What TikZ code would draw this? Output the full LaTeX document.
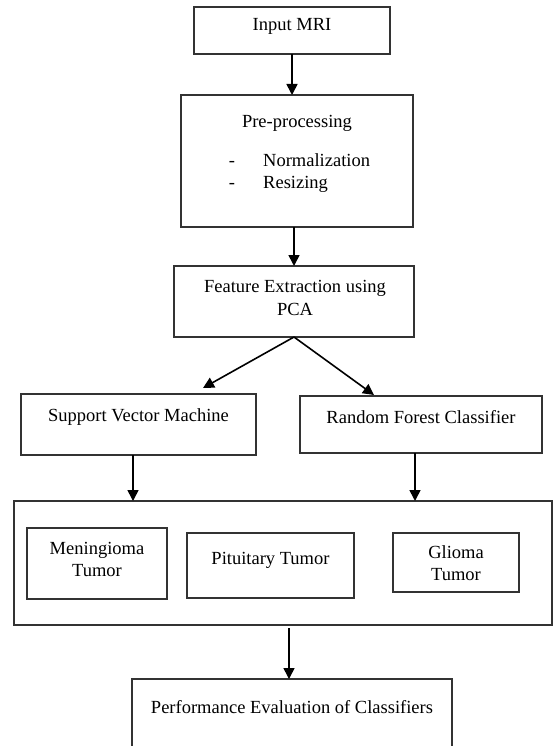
\documentclass[tikz,border=0pt]{standalone}
\usepackage{fontspec}
\setmainfont{Liberation Serif}
\usetikzlibrary{arrows.meta,calc}
\begin{document}
\begin{tikzpicture}[x=1pt,y=-1pt,
  box/.style={draw=black!80,line width=1.4pt,inner sep=0pt,outer sep=0pt,anchor=north west},
  lbl/.style={font=\fontsize{18.5}{22}\selectfont,inner sep=0pt,anchor=base,text=black},
  lblw/.style={lbl,anchor=base west},
  arr/.style={line width=1.6pt,draw=black,-{Triangle[width=11pt,length=11pt]}}]
\clip (0,0) rectangle (553,746);
\fill[white] (0,0) rectangle (553,746);
% boxes
\node[box,minimum width=196,minimum height=47] (inp) at (194,7) {};
\node[box,minimum width=232,minimum height=132] (pre) at (181,95) {};
\node[box,minimum width=240,minimum height=71] (feat) at (174,266) {};
\node[box,minimum width=235,minimum height=61] (svm) at (21,394) {};
\node[box,minimum width=242,minimum height=57] (rf) at (300,396) {};
\node[box,minimum width=538,minimum height=124] (big) at (14,501) {};
\node[box,minimum width=140,minimum height=71] (men) at (27,528) {};
\node[box,minimum width=167,minimum height=65] (pit) at (187,533) {};
\node[box,minimum width=126,minimum height=59] (gli) at (393,533) {};
\node[box,minimum width=320,minimum height=100] (perf) at (132,679) {};
% texts
\node[lbl] (t1) at (292,31) {Input MRI};
\node[lbl] (t2) at (297,128) {Pre-processing};
\node[lbl] (d1) at (232,167) {-};
\node[lblw] (t3) at (263,167) {Normalization};
\node[lbl] (d2) at (232,189) {-};
\node[lblw] (t4) at (263,189) {Resizing};
\node[lbl] (t5) at (295,292) {Feature Extraction using};
\node[lbl] (t6) at (295,315) {PCA};
\node[lbl] (t7) at (138.5,421) {Support Vector Machine};
\node[lbl] (t8) at (421,423) {Random Forest Classifier};
\node[lbl] (t9) at (97,554) {Meningioma};
\node[lbl] (t10) at (97,576) {Tumor};
\node[lbl] (t11) at (270.5,564) {Pituitary Tumor};
\node[lbl] (t12) at (456,558) {Glioma};
\node[lbl] (t13) at (456,580) {Tumor};
\node[lbl] (t14) at (292,713) {Performance Evaluation of Classifiers};
% connectors
\coordinate (svmtip) at ($(svm.north)+(64.5,-6)$);
\coordinate (rftip) at ($(rf.north)+(-47,-1)$);
\coordinate (s1) at ($(svm.south)+(-5.5,0)$);
\coordinate (s2) at ($(rf.south)+(-6,0)$);
\coordinate (s3) at ($(big.south)+(6,3)$);
\draw[arr] (inp.south) -- (inp.south |- pre.north);
\draw[arr] (pre.south -| feat.north) -- (feat.north);
\draw[arr] (feat.south) -- (svmtip);
\draw[arr] (feat.south) -- (rftip);
\draw[arr] (s1) -- (s1 |- big.north);
\draw[arr] (s2) -- (s2 |- big.north);
\draw[arr] (s3) -- (s3 |- perf.north);
\end{tikzpicture}
\end{document}
